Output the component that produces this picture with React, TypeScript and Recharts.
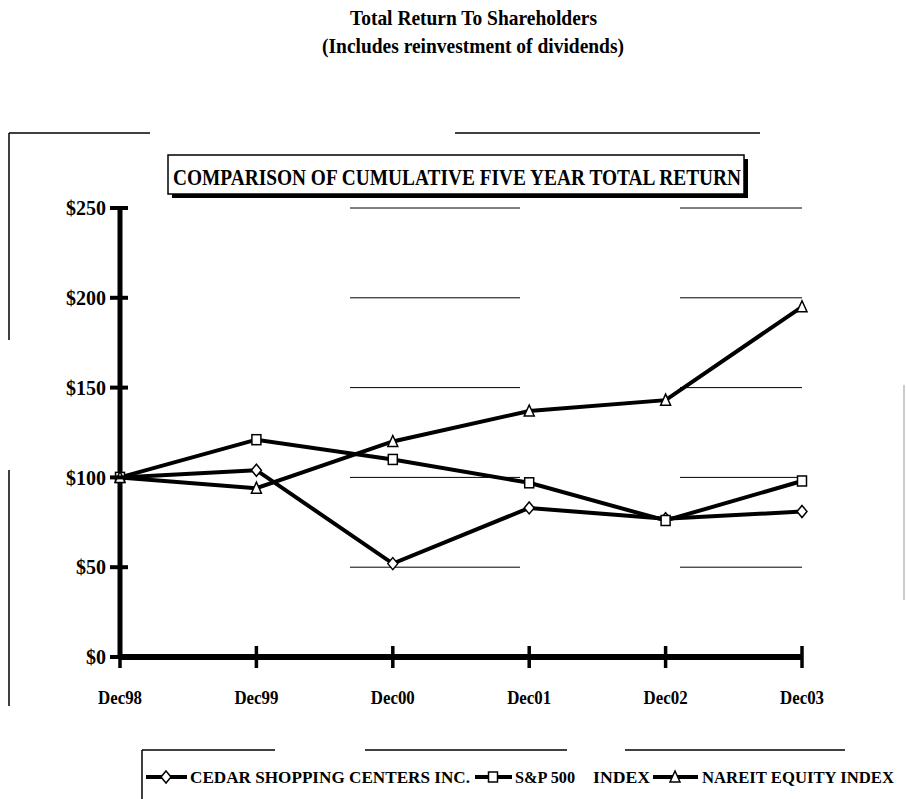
import React from 'react';
import { LineChart, Line, XAxis, YAxis, CartesianGrid } from 'recharts';

const years = ['Dec98', 'Dec99', 'Dec00', 'Dec01', 'Dec02', 'Dec03'];
const cedar = [100, 104, 52, 83, 77, 81];
const sp500 = [100, 121, 110, 97, 76, 98];
const nareit = [100, 94, 120, 137, 143, 195];
const yTicks = [0, 50, 100, 150, 200, 250];

const data = years.map((year, i) => ({
  year,
  cedar: cedar[i],
  sp500: sp500[i],
  nareit: nareit[i],
}));

const FONT = '"Liberation Serif", "Times New Roman", serif';

const Diamond = ({ cx, cy }: any) => {
  if (cx == null || cy == null) return null;
  return (
    <polygon
      points={`${cx},${cy - 6} ${cx + 5},${cy} ${cx},${cy + 6} ${cx - 5},${cy}`}
      fill="#fff"
      stroke="#000"
      strokeWidth={1.5}
    />
  );
};

const Square = ({ cx, cy }: any) => {
  if (cx == null || cy == null) return null;
  return <rect x={cx - 4.5} y={cy - 5} width={9} height={10} fill="#fff" stroke="#000" strokeWidth={1.5} />;
};

const Triangle = ({ cx, cy }: any) => {
  if (cx == null || cy == null) return null;
  return (
    <polygon
      points={`${cx},${cy - 6} ${cx + 5},${cy + 5} ${cx - 5},${cy + 5}`}
      fill="#fff"
      stroke="#000"
      strokeWidth={1.5}
    />
  );
};

const YTick = ({ x, y, payload }: any) => (
  <g>
    <line x1={x - 10} x2={x + 8} y1={y} y2={y} stroke="#000" strokeWidth={4} />
    <text x={x - 14} y={y} dy="0.36em" textAnchor="end" fontFamily={FONT} fontWeight="bold" fontSize={20} fill="#000">
      {`$${payload.value}`}
    </text>
  </g>
);

const XTick = ({ x, y, payload }: any) => (
  <g>
    <line x1={x} x2={x} y1={y - 11} y2={y + 11} stroke="#000" strokeWidth={3.5} />
    <text
      x={x - 22}
      y={y + 47}
      textLength={44}
      lengthAdjust="spacingAndGlyphs"
      fontFamily={FONT}
      fontWeight="bold"
      fontSize={19}
      fill="#000"
    >
      {payload.value}
    </text>
  </g>
);

const txt = { fontFamily: FONT, fontWeight: 'bold' as const, fill: '#000', lengthAdjust: 'spacingAndGlyphs' };

export default function App() {
  return (
    <div style={{ position: 'absolute', left: 0, top: 0, width: 906, height: 799, background: '#fff', overflow: 'hidden' }}>
      <LineChart width={906} height={799} data={data} margin={{ top: 208, right: 104, bottom: 112, left: 60 }}>
        <CartesianGrid vertical={false} stroke="#000" strokeWidth={1} strokeDasharray="0 230 170 160 200" />
        <XAxis
          dataKey="year"
          scale="point"
          padding={{ left: 0, right: 0 }}
          height={30}
          axisLine={{ stroke: '#000', strokeWidth: 6 }}
          tickLine={false}
          tickSize={0}
          tickMargin={0}
          tick={<XTick />}
          interval={0}
        />
        <YAxis
          width={60}
          domain={[0, 250]}
          ticks={yTicks}
          axisLine={{ stroke: '#000', strokeWidth: 5 }}
          tickLine={false}
          tickSize={0}
          tickMargin={0}
          tick={<YTick />}
          interval={0}
        />
        <Line dataKey="cedar" stroke="#000" strokeWidth={4} dot={(p: any) => <Diamond key={`d${p.index}`} {...p} />} activeDot={false} isAnimationActive={false} />
        <Line dataKey="sp500" stroke="#000" strokeWidth={4} dot={(p: any) => <Square key={`s${p.index}`} {...p} />} activeDot={false} isAnimationActive={false} />
        <Line dataKey="nareit" stroke="#000" strokeWidth={4} dot={(p: any) => <Triangle key={`t${p.index}`} {...p} />} activeDot={false} isAnimationActive={false} />
      </LineChart>

      <svg width={906} height={799} style={{ position: 'absolute', left: 0, top: 0, pointerEvents: 'none' }}>
        {/* page titles */}
        <text x={350} y={25} fontSize={21} textLength={247} {...txt}>Total Return To Shareholders</text>
        <text x={322} y={53} fontSize={21} textLength={302} {...txt}>(Includes reinvestment of dividends)</text>

        {/* outer frame, broken like the scan */}
        <line x1={9} x2={9} y1={133} y2={340} stroke="#000" strokeWidth={1.5} />
        <line x1={9} x2={9} y1={470} y2={706} stroke="#000" strokeWidth={1.5} />
        <line x1={9} x2={150} y1={133} y2={133} stroke="#000" strokeWidth={1.5} />
        <line x1={455} x2={760} y1={133} y2={133} stroke="#000" strokeWidth={1.5} />
        <line x1={904} x2={904} y1={385} y2={600} stroke="#999" strokeWidth={1} />

        {/* chart title box */}
        <rect x={172} y={159} width={576} height={39} fill="#000" />
        <rect x={168} y={155} width={576} height={39} fill="#fff" stroke="#000" strokeWidth={1.5} />
        <text x={173} y={185} fontSize={24} textLength={568} {...txt}>COMPARISON OF CUMULATIVE FIVE YEAR TOTAL RETURN</text>

        {/* legend */}
        <line x1={142} x2={142} y1={750} y2={799} stroke="#000" strokeWidth={1.5} />
        <line x1={142} x2={275} y1={750} y2={750} stroke="#000" strokeWidth={1.5} />
        <line x1={365} x2={567} y1={750} y2={750} stroke="#000" strokeWidth={1.5} />
        <line x1={625} x2={845} y1={750} y2={750} stroke="#000" strokeWidth={1.5} />

        <line x1={146} x2={187} y1={777} y2={777} stroke="#000" strokeWidth={4} />
        <Diamond cx={166} cy={777} />
        <text x={190} y={783} fontSize={17} textLength={280} {...txt}>CEDAR SHOPPING CENTERS INC.</text>

        <line x1={475} x2={512} y1={777} y2={777} stroke="#000" strokeWidth={4} />
        <Square cx={493} cy={777} />
        <text x={515} y={783} fontSize={17} textLength={60} {...txt}>S&amp;P 500</text>
        <text x={593} y={783} fontSize={17} textLength={57} {...txt}>INDEX</text>

        <line x1={653} x2={698} y1={777} y2={777} stroke="#000" strokeWidth={4} />
        <Triangle cx={675} cy={777} />
        <text x={702} y={783} fontSize={17} textLength={192} {...txt}>NAREIT EQUITY INDEX</text>
      </svg>
    </div>
  );
}
